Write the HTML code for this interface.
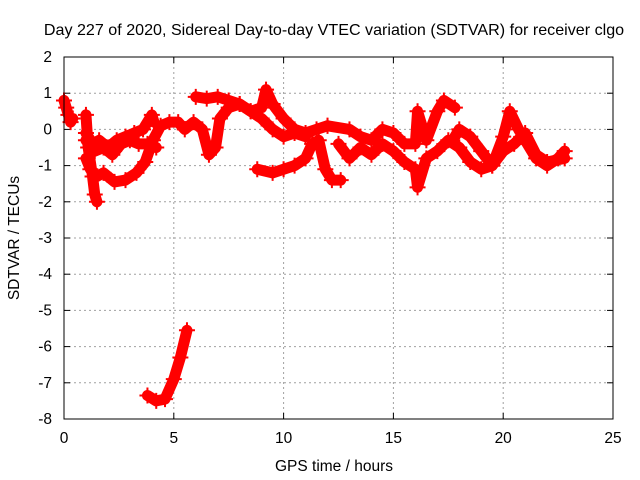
<!DOCTYPE html>
<html><head><meta charset="utf-8"><style>
body{margin:0;background:#fff}
svg{display:block;font-family:"Liberation Sans",sans-serif;font-size:15.5px}
</style></head><body>
<svg id="c" width="640" height="480">
<text x="334" y="35" text-anchor="middle" style="font-size:16.1px">Day 227 of 2020, Sidereal Day-to-day VTEC variation (SDTVAR) for receiver clgo</text>
<text x="334" y="471" text-anchor="middle">GPS time / hours</text>
<text transform="translate(19,238) rotate(-90)" text-anchor="middle">SDTVAR / TECUs</text>
<g id="grid"></g><g id="ticks"></g><g id="data"></g>
<rect x="64" y="57" width="549" height="362" fill="none" stroke="#000" stroke-width="1"/>
</svg>
<script>
const xTicks=[0,5,10,15,20,25];
const yTicks=[2,1,0,-1,-2,-3,-4,-5,-6,-7,-8];
const trackA=[[0,0.8],[0.1,0.6],[0.2,0.4],[0.3,0.2],[0.4,0.3]];
const trackB=[[1,-0.1],[1.3,-0.4],[1.6,-0.3],[2,-0.5],[2.4,-0.3],[2.8,-0.2],[3.2,-0.1],[3.6,0.0],[4,0.4],[4.1,0.2]];
const trackB2=[[1,-0.3],[1.4,-0.6],[1.8,-0.5],[2.2,-0.7],[2.6,-0.4],[3,-0.3],[3.4,-0.4],[3.8,-0.4],[4.2,-0.5]];
const trackC=[[1.0,-0.8],[1.2,-1.1],[1.5,-1.3],[1.8,-1.2],[2.3,-1.45],[2.8,-1.4],[3.3,-1.2],[3.7,-0.9],[4.05,-0.3],[4.4,0.1],[4.8,0.2],[5.2,0.2],[5.5,0.0],[5.9,0.2],[6.3,0.0],[6.6,-0.7],[6.9,-0.5],[7.1,0.3],[7.5,0.6],[8,0.7],[8.5,0.5],[9,0.3],[9.5,0.0],[10,-0.2],[10.5,-0.1],[11,-0.2]];
const trackD=[[1.0,0.4],[1.1,-0.5],[1.3,-1.3],[1.4,-1.8],[1.5,-2.0]];
const trackE=[[6,0.9],[6.5,0.85],[7,0.9],[7.5,0.8],[8,0.7],[8.5,0.5],[9,0.6],[9.2,1.1],[9.5,0.7],[10,0.3],[10.5,0.0],[11,-0.1],[11.5,0.0],[12,0.1]];
const trackF=[[8.8,-1.1],[9.5,-1.2],[10,-1.1],[10.5,-1.0],[11,-0.8],[11.3,-0.4],[11.6,-0.3],[11.9,-1.1],[12.2,-1.4],[12.6,-1.4]];
const trackG=[[12,0.1],[13,0.0],[13.5,-0.2],[14,-0.3],[14.5,0.0],[15,-0.1],[15.5,-0.4],[16,-0.4],[16.1,0.5],[16.5,-0.3],[17,0.5],[17.3,0.8],[17.8,0.6]];
const trackH=[[17.8,-0.2],[18,0.0],[18.5,-0.2],[19,-0.6],[19.5,-1.0],[20,-0.2],[20.3,0.5],[20.7,0.0],[21,-0.3],[21.5,-0.8],[22,-1.0],[22.5,-0.8],[22.8,-0.6]];
const trackI=[[12.5,-0.4],[13,-0.8],[13.5,-0.5],[14,-0.7],[14.5,-0.4],[15,-0.6],[15.5,-0.9],[16,-1.1],[16.1,-1.6],[16.5,-0.8],[17,-0.6],[17.5,-0.3],[18,-0.5],[18.5,-0.9],[19,-1.1],[19.5,-1.0],[20,-0.6],[20.5,-0.4],[21,-0.1],[21.5,-0.7],[22,-0.9],[22.8,-0.8]];
const trackJ=[[3.8,-7.35],[4.2,-7.5],[4.6,-7.45],[5.0,-6.9],[5.3,-6.3],[5.6,-5.55]];
const tracks=[trackA,trackB,trackB2,trackC,trackD,trackE,trackF,trackG,trackH,trackI,trackJ];
const NS="http://www.w3.org/2000/svg";
const X=v=>64+v*(549/25), Y=v=>57+(2-v)*(362/10);
function mk(t,a,p){const e=document.createElementNS(NS,t);for(const k in a)e.setAttribute(k,a[k]);p.appendChild(e);return e;}
const g=document.getElementById('grid'),tk=document.getElementById('ticks'),d=document.getElementById('data');
xTicks.forEach(v=>{
 if(v>0&&v<25){const l=mk('line',{x1:X(v),x2:X(v),y1:57,y2:419,stroke:'#a0a0a0','stroke-dasharray':'2,3'},g);
 
 }
 mk('line',{x1:X(v),x2:X(v),y1:419,y2:413,stroke:'#000'},tk);
 mk('line',{x1:X(v),x2:X(v),y1:57,y2:63,stroke:'#000'},tk);
 const t=mk('text',{x:X(v),y:443,'text-anchor':'middle'},tk);t.textContent=v;
 
 
});
yTicks.forEach(v=>{
 if(v<2&&v>-8){const l=mk('line',{x1:64,x2:613,y1:Y(v),y2:Y(v),stroke:'#a0a0a0','stroke-dasharray':'2,3'},g);
 
 }
 mk('line',{x1:64,x2:70,y1:Y(v),y2:Y(v),stroke:'#000'},tk);
 mk('line',{x1:613,x2:607,y1:Y(v),y2:Y(v),stroke:'#000'},tk);
 const t=mk('text',{x:52,y:Y(v)+5,'text-anchor':'end'},tk);t.textContent=v;
 
 
});
tracks.forEach(tr=>{
 const pl=mk('polyline',{points:tr.map(p=>X(p[0])+','+Y(p[1])).join(' '),fill:'none',stroke:'#ff0000','stroke-width':11,'stroke-linejoin':'round','stroke-linecap':'round'},d);
 
 
 tr.forEach(p=>{
  const m=mk('path',{d:`M${X(p[0])-8},${Y(p[1])}h16M${X(p[0])},${Y(p[1])-8}v16`,stroke:'#ff0000','stroke-width':2},d);
  
  
 });
});
</script>
</body></html>
